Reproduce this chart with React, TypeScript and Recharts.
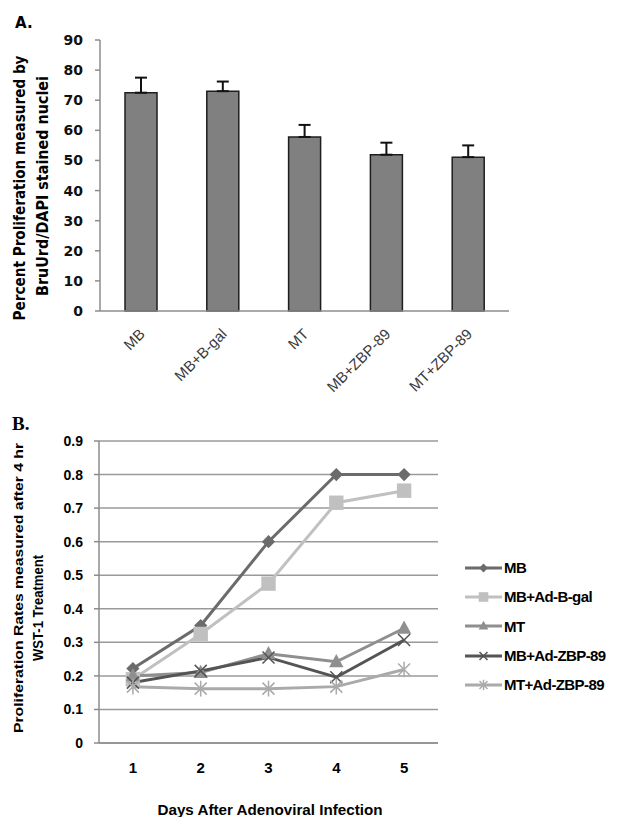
import React from "react";
import {
  BarChart,
  Bar,
  ErrorBar,
  LineChart,
  Line,
  XAxis,
  YAxis,
  CartesianGrid,
  Legend,
} from "recharts";

// Panel A: BrdU/DAPI proliferation (%)
const groups = ["MB", "MB+B-gal", "MT", "MB+ZBP-89", "MT+ZBP-89"];
const percents = [72.5, 73.0, 57.8, 51.9, 51.1];
const percentErr = [5.0, 3.2, 4.0, 4.0, 3.9];
const percentTicks = [0, 10, 20, 30, 40, 50, 60, 70, 80, 90];

// Panel B: WST-1 proliferation rates by day
const days = ["1", "2", "3", "4", "5"];
const seriesNames = ["MB", "MB+Ad-B-gal", "MT", "MB+Ad-ZBP-89", "MT+Ad-ZBP-89"];
const mbRates = [0.222, 0.35, 0.6, 0.8, 0.8];
const bgalRates = [0.19, 0.325, 0.475, 0.716, 0.752];
const mtRates = [0.2, 0.21, 0.266, 0.242, 0.342];
const mbZbpRates = [0.18, 0.215, 0.255, 0.196, 0.307];
const mtZbpRates = [0.168, 0.162, 0.162, 0.168, 0.219];
const rateTicks = [0, 0.1, 0.2, 0.3, 0.4, 0.5, 0.6, 0.7, 0.8, 0.9];

const edgeTicks = [0, 1, 2, 3, 4, 5];

const barData = groups.map((g, i) => ({
  group: g,
  pos: i + 0.5,
  value: percents[i],
  err: [0, percentErr[i]],
}));

const seriesValues = [mbRates, bgalRates, mtRates, mbZbpRates, mtZbpRates];
const lineData = days.map((d, i) => {
  const row: any = { day: d, pos: i + 0.5 };
  seriesNames.forEach((name, s) => {
    row[name] = seriesValues[s][i];
  });
  return row;
});

const seriesStyle: Record<string, { color: string; kind: string }> = {
  MB: { color: "#6b6b6b", kind: "diamond" },
  "MB+Ad-B-gal": { color: "#c0c0c0", kind: "square" },
  MT: { color: "#8f8f8f", kind: "triangle" },
  "MB+Ad-ZBP-89": { color: "#545454", kind: "x" },
  "MT+Ad-ZBP-89": { color: "#aaaaaa", kind: "star" },
};

const AXIS_GRAY = "#8c8c8c";
const SANS = "'Liberation Sans', Arial, sans-serif";

function Marker({ kind, cx, cy, color, s }: any) {
  if (cx == null || cy == null) return null;
  switch (kind) {
    case "diamond":
      return (
        <polygon
          points={`${cx},${cy - s * 0.55} ${cx + s * 0.55},${cy} ${cx},${cy + s * 0.55} ${cx - s * 0.55},${cy}`}
          fill={color}
        />
      );
    case "square":
      return <rect x={cx - s * 0.6} y={cy - s * 0.6} width={s * 1.2} height={s * 1.2} fill={color} />;
    case "triangle":
      return (
        <polygon
          points={`${cx},${cy - s * 0.65} ${cx + s * 0.6},${cy + s * 0.45} ${cx - s * 0.6},${cy + s * 0.45}`}
          fill={color}
        />
      );
    case "x":
      return (
        <path
          d={`M${cx - s / 2},${cy - s / 2}L${cx + s / 2},${cy + s / 2}M${cx - s / 2},${cy + s / 2}L${cx + s / 2},${cy - s / 2}`}
          stroke={color}
          strokeWidth={1.5}
        />
      );
    default:
      return (
        <path
          d={`M${cx - s / 2},${cy - s / 2}L${cx + s / 2},${cy + s / 2}M${cx - s / 2},${cy + s / 2}L${cx + s / 2},${cy - s / 2}M${cx},${cy - s * 0.65}L${cx},${cy + s * 0.65}`}
          stroke={color}
          strokeWidth={1.5}
        />
      );
  }
}

const GroupTick = ({ x, y, payload }: any) => {
  const ax = x + 5;
  const ay = y + 22;
  return (
    <text
      x={ax}
      y={ay}
      transform={`rotate(-45, ${ax}, ${ay})`}
      textAnchor="end"
      fontSize={15}
      fill="#3a3a3a"
      fontFamily={SANS}
    >
      {payload.value}
    </text>
  );
};

const renderLegend = ({ payload }: any) => {
  const items = [...(payload || [])].sort(
    (a: any, b: any) => seriesNames.indexOf(a.value) - seriesNames.indexOf(b.value)
  );
  return (
    <div style={{ fontFamily: SANS }}>
      {items.map((entry: any) => {
        const st = seriesStyle[entry.value];
        return (
          <div key={entry.value} style={{ display: "flex", alignItems: "center", height: 29.3 }}>
            <svg width={37} height={16}>
              <line x1={0} y1={8} x2={37} y2={8} stroke={st.color} strokeWidth={3} />
              <Marker kind={st.kind} cx={18.5} cy={8} color={st.color} s={8} />
            </svg>
            <span style={{ marginLeft: 2, fontSize: 15, fontWeight: 700, color: "#000", letterSpacing: -0.6 }}>
              {entry.value}
            </span>
          </div>
        );
      })}
    </div>
  );
};

export default function App() {
  return (
    <div
      style={{
        position: "absolute",
        left: 0,
        top: 0,
        width: 630,
        height: 817,
        background: "#fff",
        fontFamily: SANS,
      }}
    >
      {/* Panel A */}
      <div style={{ position: "absolute", left: 0, top: 0 }}>
        <BarChart
          width={630}
          height={400}
          data={barData}
          margin={{ top: 40, right: 121, left: 40, bottom: 87 }}
        >
          <XAxis
            dataKey="group"
            height={1}
            tickSize={0}
            tickLine={false}
            axisLine={{ stroke: AXIS_GRAY, strokeWidth: 1.5 }}
            tick={<GroupTick />}
            interval={0}
          />
          <XAxis
            xAxisId="edge"
            type="number"
            dataKey="pos"
            domain={[0, 5]}
            ticks={edgeTicks}
            interval={0}
            allowDataOverflow
            height={1}
            axisLine={false}
            tick={false}
            tickSize={5}
            tickLine={{ stroke: AXIS_GRAY, strokeWidth: 1.5 }}
          />
          <YAxis
            domain={[0, 90]}
            ticks={percentTicks}
            interval={0}
            width={60}
            tickSize={5}
            tickMargin={12}
            axisLine={{ stroke: AXIS_GRAY, strokeWidth: 1.5 }}
            tickLine={{ stroke: AXIS_GRAY, strokeWidth: 1.5 }}
            tick={{ fontSize: 14, fontWeight: 700, fill: "#111", fontFamily: "'DejaVu Sans', Verdana, sans-serif" }}
          />
          <Bar
            dataKey="value"
            fill="#808080"
            stroke="#1e1e1e"
            strokeWidth={1.5}
            barSize={32}
            isAnimationActive={false}
          >
            <ErrorBar dataKey="err" width={6} stroke="#111" strokeWidth={2} direction="y" />
          </Bar>
        </BarChart>
      </div>

      {/* Panel B */}
      <div style={{ position: "absolute", left: 0, top: 400 }}>
        <LineChart
          width={630}
          height={417}
          data={lineData}
          margin={{ top: 41, right: 192, left: 39, bottom: 72 }}
        >
          <CartesianGrid vertical={false} stroke="#9a9a9a" strokeWidth={1.5} />
          <XAxis
            dataKey="day"
            scale="band"
            height={1}
            tickSize={0}
            tickMargin={19}
            tickLine={false}
            axisLine={{ stroke: AXIS_GRAY, strokeWidth: 1.5 }}
            tick={{ fontSize: 15, fontWeight: 700, fill: "#000", fontFamily: SANS }}
            interval={0}
          />
          <XAxis
            xAxisId="edge"
            type="number"
            dataKey="pos"
            domain={[0, 5]}
            ticks={edgeTicks}
            interval={0}
            allowDataOverflow
            height={1}
            axisLine={false}
            tick={false}
            tickSize={5}
            tickLine={{ stroke: AXIS_GRAY, strokeWidth: 1.5 }}
          />
          <YAxis
            domain={[0, 0.9]}
            ticks={rateTicks}
            interval={0}
            width={60}
            tickSize={5}
            tickMargin={11}
            tickFormatter={(v: number) => (v === 0 ? "0" : v.toFixed(1))}
            axisLine={{ stroke: AXIS_GRAY, strokeWidth: 1.5 }}
            tickLine={{ stroke: AXIS_GRAY, strokeWidth: 1.5 }}
            tick={{ fontSize: 14, fontWeight: 700, fill: "#000", fontFamily: SANS }}
          />
          {seriesNames.map((name) => {
            const st = seriesStyle[name];
            return (
              <Line
                key={name}
                dataKey={name}
                name={name}
                stroke={st.color}
                strokeWidth={3}
                isAnimationActive={false}
                dot={(p: any) => (
                  <Marker key={`${name}-${p.index}`} kind={st.kind} cx={p.cx} cy={p.cy} color={st.color} s={12} />
                )}
                activeDot={false}
              />
            );
          })}
          <Legend
            layout="vertical"
            verticalAlign="middle"
            align="center"
            wrapperStyle={{ left: 465, top: 153, width: 165 }}
            content={renderLegend}
          />
        </LineChart>
      </div>

      {/* titles and axis labels */}
      <svg
        width={630}
        height={817}
        style={{ position: "absolute", left: 0, top: 0, pointerEvents: "none" }}
      >
        <text x={15} y={28} fontSize={15} fontWeight={700} fontFamily="'DejaVu Sans', sans-serif">
          A.
        </text>
        <text x={12} y={430} fontSize={19} fontWeight={700} fontFamily="'Liberation Serif', serif">
          B.
        </text>
        <text
          transform="translate(25, 188) rotate(-90)"
          textAnchor="middle"
          fontSize={15}
          fontWeight={700}
          fontFamily="'DejaVu Sans', sans-serif"
          textLength={265}
          lengthAdjust="spacingAndGlyphs"
        >
          Percent Proliferation measured by
        </text>
        <text
          transform="translate(48, 186) rotate(-90)"
          textAnchor="middle"
          fontSize={15}
          fontWeight={700}
          fontFamily="'DejaVu Sans', sans-serif"
          textLength={220}
          lengthAdjust="spacingAndGlyphs"
        >
          BruUrd/DAPI stained nuclei
        </text>
        <text
          transform="translate(23, 588) rotate(-90)"
          textAnchor="middle"
          fontSize={13}
          fontWeight={700}
          fontFamily={SANS}
          textLength={290}
          lengthAdjust="spacingAndGlyphs"
        >
          Proliferation Rates measured after 4 hr
        </text>
        <text
          transform="translate(43, 608) rotate(-90)"
          textAnchor="middle"
          fontSize={14}
          fontWeight={700}
          fontFamily={SANS}
          textLength={106}
          lengthAdjust="spacingAndGlyphs"
        >
          WST-1 Treatment
        </text>
        <text
          x={270}
          y={815}
          textAnchor="middle"
          fontSize={15}
          fontWeight={700}
          fontFamily={SANS}
          textLength={225}
          lengthAdjust="spacingAndGlyphs"
        >
          Days After Adenoviral Infection
        </text>
      </svg>
    </div>
  );
}
